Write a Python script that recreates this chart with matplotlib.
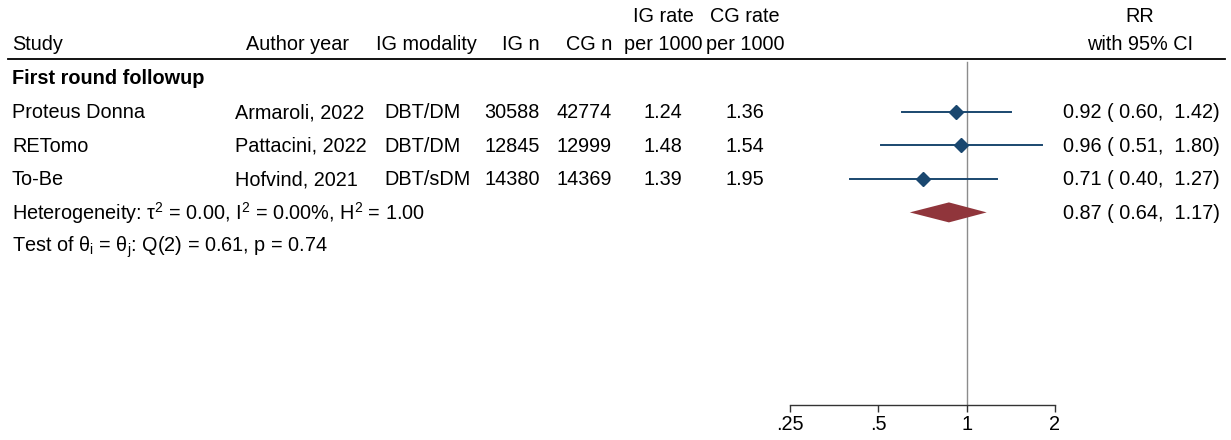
import numpy as np
import matplotlib
matplotlib.use("Agg")
import matplotlib.pyplot as plt

plt.rcParams['font.family'] = ['Liberation Sans', 'DejaVu Sans']
plt.rcParams['mathtext.fontset'] = 'custom'
plt.rcParams['mathtext.rm'] = 'Liberation Sans'
plt.rcParams['mathtext.it'] = 'Liberation Sans'

# data
group = "First round followup"
studies = ["Proteus Donna", "RETomo", "To-Be"]
authors = ["Armaroli, 2022", "Pattacini, 2022", "Hofvind, 2021"]
modality = ["DBT/DM", "DBT/DM", "DBT/sDM"]
ig_n = [30588, 12845, 14380]
cg_n = [42774, 12999, 14369]
ig_rate = [1.24, 1.48, 1.39]
cg_rate = [1.36, 1.54, 1.95]
rr = [0.92, 0.96, 0.71]
rr_lo = [0.60, 0.51, 0.40]
rr_hi = [1.42, 1.80, 1.27]
pooled = (0.87, 0.64, 1.17)
het_text = r"Heterogeneity: τ$^{2}$ = 0.00, I$^{2}$ = 0.00%, H$^{2}$ = 1.00"
test_text = r"Test of θ$_{\rm i}$ = θ$_{\rm j}$: Q(2) = 0.61, p = 0.74"
xticks = [0.25, 0.5, 1, 2]
xticklabels = [".25", ".5", "1", "2"]

W, H = 1231, 440
fs = 14.3
navy = "#1a476f"
maroon = "#90353b"

fig = plt.figure(figsize=(W / 100, H / 100), dpi=100)
ax = fig.add_axes([0, 0, 1, 1])
ax.set_xlim(0, W)
ax.set_ylim(H, 0)
ax.axis("off")

# forest axes: .25 at x=790, 2 at x=1055, axis line at y=405
x0, x1, ybot = 790, 1055, 405
fx = fig.add_axes([x0 / W, (H - ybot) / H, (x1 - x0) / W, ybot / H])
fx.set_xscale("log")
fx.set_xlim(0.25, 2)
fx.set_ylim(ybot, 0)
fx.patch.set_alpha(0)
for s in ["top", "right", "left"]:
    fx.spines[s].set_visible(False)
fx.spines["bottom"].set_color("#333333")
fx.spines["bottom"].set_linewidth(1.0)
fx.set_yticks([])
fx.set_xticks(xticks)
fx.set_xticklabels(xticklabels, fontsize=fs)
fx.minorticks_off()
fx.tick_params(axis="x", direction="out", length=5, width=1.0, color="#333333", pad=2)

# headers
hy1, hy2 = 17, 44
ax.text(12, hy2, "Study", fontsize=fs, va="center", ha="left")
ax.text(298, hy2, "Author year", fontsize=fs, va="center", ha="center")
ax.text(426, hy2, "IG modality", fontsize=fs, va="center", ha="center")
ax.text(540, hy2, "IG n", fontsize=fs, va="center", ha="right")
ax.text(612, hy2, "CG n", fontsize=fs, va="center", ha="right")
ax.text(663, hy1, "IG rate", fontsize=fs, va="center", ha="center")
ax.text(663, hy2, "per 1000", fontsize=fs, va="center", ha="center")
ax.text(745, hy1, "CG rate", fontsize=fs, va="center", ha="center")
ax.text(745, hy2, "per 1000", fontsize=fs, va="center", ha="center")
ax.text(1140, hy1, "RR", fontsize=fs, va="center", ha="center")
ax.text(1140, hy2, "with 95% CI", fontsize=fs, va="center", ha="center")
ax.plot([8, 1225], [59, 59], color="black", lw=1.3)

row0, step = 79, 33.6
ax.text(12, row0, group, fontsize=fs, fontweight="bold", va="center", ha="left")

# reference line at 1
fx.plot([1, 1], [62, ybot], color="#8c8c8c", lw=1.0, zorder=1)

for i in range(len(studies)):
    y = row0 + step * (i + 1)
    ax.text(12, y, studies[i], fontsize=fs, va="center", ha="left")
    ax.text(235, y, authors[i], fontsize=fs, va="center", ha="left")
    ax.text(384, y, modality[i], fontsize=fs, va="center", ha="left")
    ax.text(540, y, str(ig_n[i]), fontsize=fs, va="center", ha="right")
    ax.text(612, y, str(cg_n[i]), fontsize=fs, va="center", ha="right")
    ax.text(663, y, f"{ig_rate[i]:.2f}", fontsize=fs, va="center", ha="center")
    ax.text(745, y, f"{cg_rate[i]:.2f}", fontsize=fs, va="center", ha="center")
    ax.text(1063, y, f"{rr[i]:.2f} ( {rr_lo[i]:.2f},  {rr_hi[i]:.2f})",
            fontsize=fs, va="center", ha="left")
    fx.plot([rr_lo[i], rr_hi[i]], [y - 1, y - 1], color=navy, lw=1.4, zorder=2)
    fx.plot(rr[i], y - 1, marker="D", color=navy, ms=7, zorder=3)

# pooled
yp = row0 + step * (len(studies) + 1)
est, lo, hi = pooled
fx.fill([lo, est, hi, est], [yp - 1, yp - 11, yp - 1, yp + 9], color=maroon, lw=0, zorder=3)
ax.text(12, yp, het_text, fontsize=fs, va="center", ha="left")
ax.text(1063, yp, f"{est:.2f} ( {lo:.2f},  {hi:.2f})", fontsize=fs, va="center", ha="left")
ax.text(12, yp + step, test_text, fontsize=fs, va="center", ha="left")

fig.savefig("out.png", dpi=100)
